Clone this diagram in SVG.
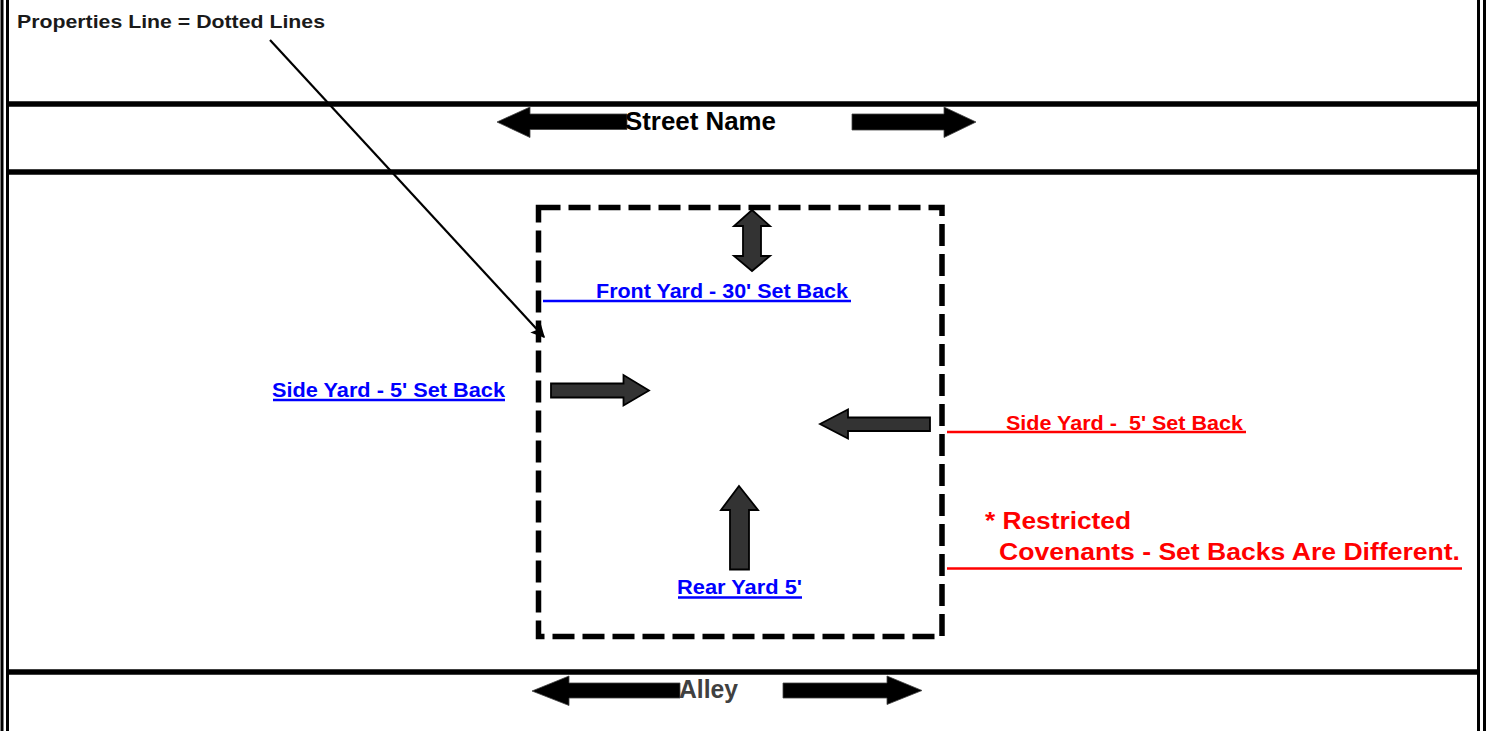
<svg xmlns="http://www.w3.org/2000/svg" width="1486" height="731" viewBox="0 0 1486 731">
<style>
.t{font-family:"Liberation Sans",Arial,sans-serif;font-weight:bold}
.blk{fill:#000}
.blue{fill:#0000ff}
.red{fill:#ff0000}
.ub{stroke:#0000ff;stroke-width:2.5}
.ur{stroke:#ff0000;stroke-width:2.5}
.road{stroke:#000;stroke-width:5.5}
.border{stroke:#000;stroke-width:3}
.setback{fill:#333333;stroke:#000;stroke-width:1.8;stroke-linejoin:miter}
.dir{fill:#000;stroke:#444;stroke-width:0.8}
</style>
<defs>
<marker id="ah2" viewBox="0 0 10 10" refX="9" refY="5" markerWidth="16" markerHeight="14" orient="auto" markerUnits="userSpaceOnUse">
<path d="M0,0 L10,5 L0,10 L2,5 z" fill="#000"/>
</marker>
</defs>
<rect width="1486" height="731" fill="#fff"/>
<g id="frame">
<line class="border" x1="2" y1="0" x2="2" y2="731"/>
<line class="border" x1="7.5" y1="0" x2="7.5" y2="731"/>
<line class="border" x1="1478.5" y1="0" x2="1478.5" y2="731"/>
<line class="border" x1="1484.5" y1="0" x2="1484.5" y2="731"/>
<line class="road" x1="9" y1="104" x2="1477" y2="104"/>
<line class="road" x1="9" y1="172" x2="1477" y2="172"/>
<line class="road" x1="9" y1="672" x2="1477" y2="672"/>
</g>
<g id="street">
<path class="dir" d="M497,122 L530,107 L530,114 L627,114 L627,129.5 L530,129.5 L530,137.5 Z"/>
<path class="dir" d="M852,114 L944,114 L944,107 L976,122 L944,137.5 L944,130 L852,130 Z"/>
<text class="t blk" x="625" y="129.5" font-size="25.5" textLength="151" lengthAdjust="spacingAndGlyphs">Street Name</text>
</g>
<g id="alley">
<path class="dir" d="M532,691 L569,676 L569,683 L680,683 L680,698 L569,698 L569,705.5 Z"/>
<path class="dir" d="M783,683 L887,683 L887,676 L922,690.5 L887,704.5 L887,698 L783,698 Z"/>
<text class="t" fill="#404040" x="679" y="697.5" font-size="25.5" textLength="59" lengthAdjust="spacingAndGlyphs">Alley</text>
</g>
<g id="property">
<rect x="538.5" y="207.5" width="403.5" height="429" fill="none" stroke="#000" stroke-width="5.5" stroke-dasharray="22 8"/>
</g>
<g id="legend">
<text class="t" fill="#1a1a1a" x="17" y="27.5" font-size="19" textLength="308" lengthAdjust="spacingAndGlyphs">Properties Line = Dotted Lines</text>
</g>
<g id="front-yard">
<path class="setback" d="M752,210 L770,226 L761,226 L761,256 L770,256 L752,271 L734,256 L743,256 L743,226 L734,226 Z"/>
<text class="t blue" x="596" y="297.5" font-size="21" textLength="252" lengthAdjust="spacingAndGlyphs">Front Yard - 30' Set Back</text>
<line class="ub" x1="543" y1="301" x2="851" y2="301"/>
</g>
<g id="side-yard-left">
<path class="setback" d="M551,383.5 L623.5,383.5 L623.5,375 L649,390.5 L623.5,405.5 L623.5,397.5 L551,397.5 Z"/>
<text class="t blue" x="272" y="396.5" font-size="21" textLength="233" lengthAdjust="spacingAndGlyphs">Side Yard - 5' Set Back</text>
<line class="ub" x1="273" y1="400" x2="505" y2="400"/>
</g>
<g id="side-yard-right">
<path class="setback" d="M820,424 L848,409.5 L848,417.5 L930,417.5 L930,431 L848,431 L848,438.5 Z"/>
<text class="t red" x="1006" y="429.5" font-size="20" textLength="237" lengthAdjust="spacingAndGlyphs" xml:space="preserve">Side Yard -  5' Set Back</text>
<line class="ur" x1="947" y1="432" x2="1246" y2="432"/>
</g>
<g id="rear-yard">
<path class="setback" d="M739,486 L758,510 L749,510 L749,569.5 L730,569.5 L730,510 L721,510 Z"/>
<text class="t blue" x="677" y="593.5" font-size="20.5" textLength="125" lengthAdjust="spacingAndGlyphs">Rear Yard 5'</text>
<line class="ub" x1="678" y1="597.5" x2="802" y2="597.5"/>
</g>
<g id="covenants">
<text class="t red" x="985" y="529" font-size="23.5" textLength="146" lengthAdjust="spacingAndGlyphs">* Restricted</text>
<text class="t red" x="999" y="560" font-size="23.5" textLength="461" lengthAdjust="spacingAndGlyphs">Covenants - Set Backs Are Different.</text>
<line class="ur" x1="947" y1="568.5" x2="1462" y2="568.5" stroke-width="3"/>
</g>
<g id="connectors">
<line x1="270" y1="40" x2="544" y2="337" stroke="#000" stroke-width="2.2" marker-end="url(#ah2)"/>
</g>
</svg>
